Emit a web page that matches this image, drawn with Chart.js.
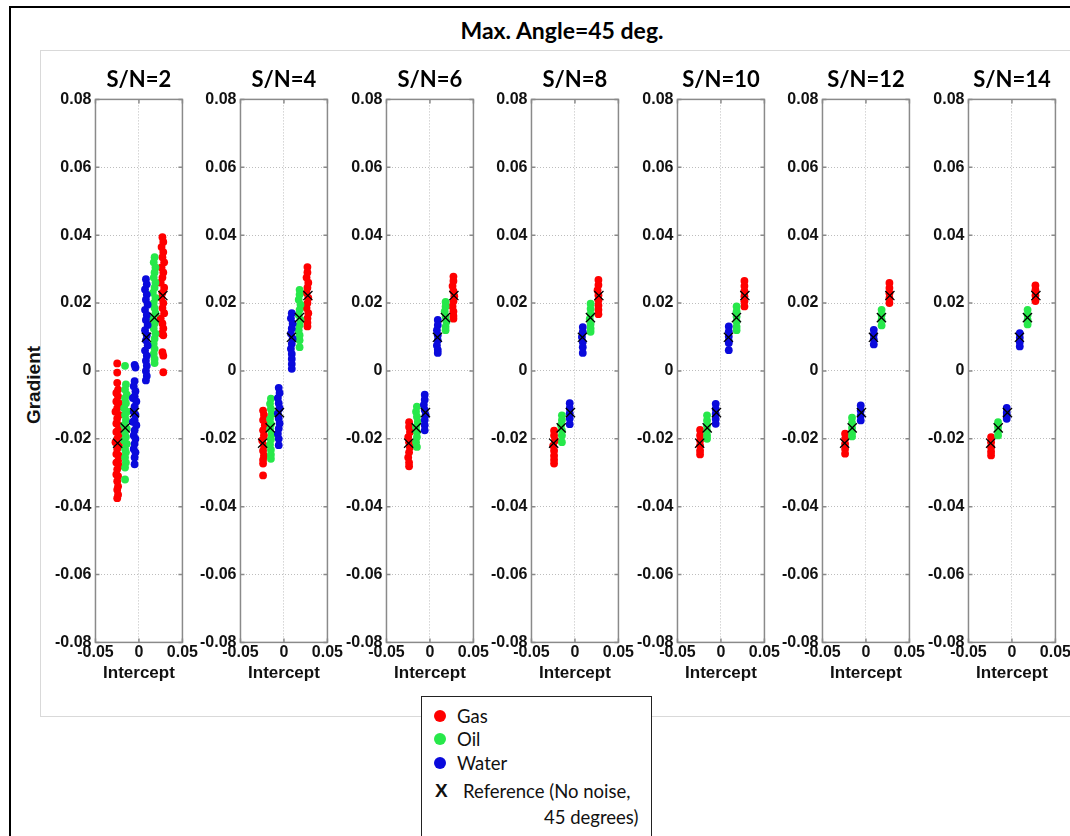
<!DOCTYPE html>
<html>
<head>
<meta charset="utf-8">
<script src="https://cdn.jsdelivr.net/npm/chart.js@4.4.0/dist/chart.umd.min.js"></script>
<style>
    body { margin: 0; background: #fff; width: 1070px; height: 836px; overflow: hidden; position: relative; font-family: 'Liberation Sans', Arial, sans-serif; }
    #frame { position: absolute; left: 9px; top: 6px; width: 1100px; height: 900px; border: 2px solid #000; }
    #inner { position: absolute; left: 40px; top: 50px; width: 1100px; height: 665px; border: 1px solid #d9d9d9; }
    #mainTitle { position: absolute; left: 262px; top: 16px; width: 600px; text-align: center; font: bold 23px Lato, sans-serif; color: #000; }
    #yTitle { position: absolute; left: 34px; top: 385px; transform: translate(-50%, -50%) rotate(-90deg); font: bold 19px 'Liberation Sans', Arial, sans-serif; color: #111; white-space: nowrap; }
    .panel { position: absolute; }
    #legend { position: absolute; left: 421px; top: 696px; width: 229px; height: 200px; border: 1px solid #222; background: #fff; font: 18.5px Lato, sans-serif; color: #111; }
    .item { position: absolute; left: 0; height: 22px; line-height: 22px; white-space: nowrap; }
    .dot { position: absolute; left: 12px; top: 5px; width: 12px; height: 12px; border-radius: 50%; }
    .lbl { position: absolute; left: 35px; top: 0; }
    .xmark { position: absolute; left: 13px; top: 0; font: bold 19px 'Liberation Sans', Arial, sans-serif; }
</style>
</head>
<body>
<div id="frame"></div>
<div id="inner"></div>
<div id="mainTitle">Max. Angle=45 deg.</div>
<div id="yTitle">Gradient</div>
<div id="legend">
    <div class="item" style="top:8px"><span class="dot" style="background:#ff0000"></span><span class="lbl">Gas</span></div>
    <div class="item" style="top:31px"><span class="dot" style="background:#27e84a"></span><span class="lbl">Oil</span></div>
    <div class="item" style="top:55px"><span class="dot" style="background:#0a0adc"></span><span class="lbl">Water</span></div>
    <div class="item" style="top:83px"><span class="xmark">X</span><span class="lbl" style="left:41px">Reference (No noise,</span></div>
    <div class="item" style="top:109px"><span class="lbl" style="left:122px">45 degrees)</span></div>
</div>
<script>
    const snLevels = [2, 4, 6, 8, 10, 12, 14];
    const xTicks = [-0.05, 0, 0.05];
    const yTicks = [-0.08, -0.06, -0.04, -0.02, 0, 0.02, 0.04, 0.06, 0.08];

    // noise-free reference (intercept, gradient)
    const refPoints = [[-0.0245, -0.0213], [-0.0158, -0.0168], [-0.0052, -0.0123], [0.0086, 0.0099], [0.0178, 0.0157], [0.0275, 0.0222]];

    // S/N = 2
    const gas2 = [[-0.025,0.0022],[-0.025,-0.0005],[-0.025,-0.0035],[-0.024,-0.0055],[-0.026,-0.0065],[-0.024,-0.0075],[-0.026,-0.009],[-0.023,-0.0095],[-0.025,-0.011],[-0.027,-0.012],[-0.023,-0.013],[-0.025,-0.014],[-0.026,-0.0155],[-0.023,-0.016],[-0.024,-0.0175],[-0.026,-0.018],[-0.023,-0.019],[-0.025,-0.020],[-0.027,-0.021],[-0.023,-0.022],[-0.025,-0.023],[-0.026,-0.0245],[-0.023,-0.025],[-0.024,-0.0265],[-0.026,-0.027],[-0.023,-0.028],[-0.025,-0.029],[-0.026,-0.0305],[-0.024,-0.031],[-0.025,-0.0325],[-0.024,-0.034],[-0.025,-0.035],[-0.024,-0.0365],[-0.025,-0.0375],
        [0.027,0.0394],[0.028,0.038],[0.026,0.0365],[0.028,0.035],[0.027,0.0335],[0.029,0.032],[0.026,0.0305],[0.028,0.029],[0.027,0.0275],[0.025,0.026],[0.029,0.0245],[0.027,0.023],[0.026,0.0215],[0.028,0.020],[0.027,0.0185],[0.029,0.017],[0.025,0.0155],[0.027,0.014],[0.028,0.0125],[0.026,0.011],[0.028,0.0105],[0.027,0.0055],[0.028,0.0045],[0.028,-0.0004]];
    const oil2 = [[-0.016,0.0015],[-0.015,-0.004],[-0.016,-0.0055],[-0.014,-0.007],[-0.016,-0.008],[-0.015,-0.0095],[-0.017,-0.011],[-0.014,-0.012],[-0.016,-0.013],[-0.015,-0.0145],[-0.017,-0.016],[-0.014,-0.017],[-0.016,-0.018],[-0.015,-0.0195],[-0.017,-0.0205],[-0.014,-0.0215],[-0.016,-0.023],[-0.015,-0.024],[-0.016,-0.0255],[-0.015,-0.027],[-0.016,-0.0285],[-0.016,-0.032],
        [0.018,0.0335],[0.017,0.032],[0.019,0.0305],[0.018,0.029],[0.017,0.0275],[0.019,0.026],[0.018,0.0245],[0.016,0.023],[0.019,0.0215],[0.017,0.020],[0.018,0.0185],[0.019,0.017],[0.016,0.0155],[0.018,0.014],[0.017,0.0125],[0.019,0.011],[0.018,0.0095],[0.017,0.008],[0.018,0.0065],[0.017,0.005],[0.018,0.0035],[0.018,0.0023]];
    const water2 = [[-0.005,0.0018],[-0.004,0.001],[-0.005,-0.003],[-0.006,-0.0045],[-0.004,-0.006],[-0.005,-0.0075],[-0.007,-0.008],[-0.003,-0.009],[-0.005,-0.0105],[-0.006,-0.012],[-0.004,-0.013],[-0.005,-0.0145],[-0.007,-0.015],[-0.003,-0.016],[-0.005,-0.0175],[-0.006,-0.019],[-0.004,-0.020],[-0.005,-0.0215],[-0.006,-0.023],[-0.004,-0.024],[-0.005,-0.0255],[-0.005,-0.0275],
        [0.008,0.027],[0.009,0.0255],[0.007,0.024],[0.009,0.0225],[0.008,0.021],[0.010,0.0195],[0.007,0.018],[0.009,0.0165],[0.008,0.015],[0.010,0.0135],[0.007,0.012],[0.009,0.0105],[0.008,0.009],[0.010,0.0075],[0.007,0.006],[0.009,0.0045],[0.008,0.003],[0.009,0.0015],[0.008,0.0],[0.009,-0.0015],[0.008,-0.0028]];

    // S/N = 4
    const gas4 = [[-0.024,-0.0117],[-0.023,-0.013],[-0.024,-0.0145],[-0.022,-0.016],[-0.024,-0.0175],[-0.023,-0.019],[-0.025,-0.0205],[-0.023,-0.022],[-0.024,-0.0235],[-0.023,-0.025],[-0.024,-0.0262],[-0.024,-0.0273],[-0.024,-0.0308],
        [0.027,0.0306],[0.027,0.029],[0.026,0.0275],[0.028,0.026],[0.027,0.0245],[0.026,0.023],[0.028,0.0215],[0.027,0.020],[0.026,0.0185],[0.028,0.017],[0.027,0.0155],[0.027,0.0142],[0.027,0.0131]];
    const oil4 = [[-0.015,-0.0082],[-0.016,-0.0097],[-0.015,-0.0112],[-0.014,-0.0127],[-0.016,-0.0142],[-0.015,-0.0157],[-0.016,-0.0172],[-0.014,-0.0187],[-0.015,-0.0202],[-0.016,-0.0217],[-0.015,-0.0232],[-0.015,-0.0247],[-0.015,-0.0259],
        [0.018,0.0239],[0.018,0.0225],[0.017,0.021],[0.019,0.0195],[0.018,0.018],[0.017,0.0165],[0.019,0.015],[0.018,0.0135],[0.017,0.012],[0.018,0.0105],[0.018,0.009],[0.018,0.007]];
    const water4 = [[-0.006,-0.005],[-0.005,-0.0065],[-0.007,-0.008],[-0.006,-0.0095],[-0.005,-0.011],[-0.007,-0.0125],[-0.006,-0.014],[-0.005,-0.0155],[-0.006,-0.017],[-0.007,-0.0185],[-0.006,-0.020],[-0.006,-0.0219],
        [0.009,0.017],[0.008,0.0155],[0.010,0.014],[0.009,0.0125],[0.008,0.011],[0.010,0.0095],[0.009,0.008],[0.008,0.0065],[0.009,0.005],[0.009,0.0035],[0.009,0.002],[0.009,0.0006]];

    // S/N = 6
    const gas6 = [[-0.024,-0.0151],[-0.024,-0.0165],[-0.023,-0.018],[-0.025,-0.0195],[-0.024,-0.021],[-0.023,-0.0225],[-0.024,-0.024],[-0.025,-0.0255],[-0.024,-0.027],[-0.024,-0.0281],
        [0.027,0.0278],[0.027,0.0265],[0.026,0.025],[0.027,0.0235],[0.028,0.022],[0.027,0.0205],[0.026,0.019],[0.027,0.0175],[0.027,0.0162],[0.027,0.0154]];
    const oil6 = [[-0.015,-0.0105],[-0.016,-0.012],[-0.015,-0.0135],[-0.014,-0.015],[-0.016,-0.0165],[-0.015,-0.018],[-0.015,-0.0195],[-0.016,-0.021],[-0.015,-0.0224],
        [0.018,0.0203],[0.018,0.019],[0.017,0.0175],[0.018,0.016],[0.019,0.0145],[0.018,0.013],[0.018,0.012]];
    const water6 = [[-0.006,-0.007],[-0.006,-0.0085],[-0.007,-0.010],[-0.006,-0.0115],[-0.005,-0.013],[-0.006,-0.0145],[-0.006,-0.016],[-0.006,-0.0175],
        [0.009,0.015],[0.009,0.0135],[0.008,0.012],[0.009,0.0105],[0.009,0.009],[0.008,0.0075],[0.009,0.0062],[0.009,0.0053]];

    // S/N = 8
    const gas8 = [[-0.024,-0.0176],[-0.024,-0.019],[-0.023,-0.0205],[-0.025,-0.022],[-0.024,-0.0235],[-0.024,-0.025],[-0.024,-0.0262],[-0.024,-0.0273],
        [0.027,0.0268],[0.027,0.0253],[0.026,0.0238],[0.027,0.0223],[0.027,0.0208],[0.027,0.0193],[0.027,0.018],[0.027,0.0167]];
    const oil8 = [[-0.015,-0.0131],[-0.015,-0.0145],[-0.016,-0.016],[-0.015,-0.0175],[-0.015,-0.019],[-0.015,-0.021],
        [0.018,0.0198],[0.018,0.0183],[0.018,0.0168],[0.017,0.0153],[0.018,0.0138],[0.018,0.0125],[0.018,0.0115]];
    const water8 = [[-0.006,-0.0095],[-0.006,-0.011],[-0.006,-0.0125],[-0.006,-0.014],[-0.006,-0.0157],
        [0.009,0.0129],[0.009,0.0115],[0.008,0.010],[0.009,0.0085],[0.009,0.007],[0.009,0.0053]];

    // S/N = 10
    const gas10 = [[-0.024,-0.0174],[-0.024,-0.019],[-0.024,-0.0205],[-0.024,-0.022],[-0.024,-0.0235],[-0.024,-0.0246],
        [0.027,0.0265],[0.027,0.025],[0.027,0.0235],[0.027,0.022],[0.027,0.0205],[0.027,0.019]];
    const oil10 = [[-0.016,-0.0131],[-0.016,-0.0146],[-0.016,-0.0161],[-0.016,-0.0176],[-0.016,-0.019],[-0.016,-0.020],
        [0.018,0.019],[0.018,0.0175],[0.018,0.016],[0.018,0.0145],[0.018,0.013],[0.018,0.012]];
    const water10 = [[-0.006,-0.0097],[-0.006,-0.0112],[-0.006,-0.0127],[-0.006,-0.0142],[-0.006,-0.0156],
        [0.009,0.0131],[0.009,0.0116],[0.009,0.0101],[0.009,0.0088],[0.009,0.0082],[0.009,0.0061]];

    // S/N = 12
    const gas12 = [[-0.024,-0.0185],[-0.024,-0.020],[-0.024,-0.0215],[-0.024,-0.023],[-0.024,-0.0244],
        [0.027,0.0259],[0.027,0.0244],[0.027,0.0229],[0.027,0.0214],[0.027,0.020]];
    const oil12 = [[-0.016,-0.0138],[-0.016,-0.0153],[-0.016,-0.0168],[-0.016,-0.0182],[-0.016,-0.0193],
        [0.018,0.018],[0.018,0.0165],[0.018,0.015],[0.018,0.0134]];
    const water12 = [[-0.006,-0.0102],[-0.006,-0.0117],[-0.006,-0.0132],[-0.006,-0.0146],
        [0.009,0.0121],[0.009,0.0107],[0.009,0.0093],[0.009,0.0078]];

    // S/N = 14
    const gas14 = [[-0.024,-0.0195],[-0.024,-0.021],[-0.024,-0.0225],[-0.024,-0.0238],[-0.024,-0.0249],
        [0.027,0.0252],[0.027,0.0238],[0.027,0.0222],[0.027,0.0206]];
    const oil14 = [[-0.016,-0.0151],[-0.016,-0.0165],[-0.016,-0.0178],[-0.016,-0.019],
        [0.018,0.018],[0.018,0.0165],[0.018,0.015],[0.018,0.0137]];
    const water14 = [[-0.006,-0.0109],[-0.006,-0.0123],[-0.006,-0.0132],[-0.006,-0.0141],
        [0.009,0.0111],[0.009,0.0098],[0.009,0.0085],[0.009,0.0072]];

    const gasByPanel = [gas2, gas4, gas6, gas8, gas10, gas12, gas14];
    const oilByPanel = [oil2, oil4, oil6, oil8, oil10, oil12, oil14];
    const waterByPanel = [water2, water4, water6, water8, water10, water12, water14];

    const plotLeft0 = 95, plotStep = 145.5, plotTop = 99, plotW = 87, plotH = 543;
    const tickFont = { family: "'Liberation Sans', Arial, sans-serif", size: 16, weight: 'bold' };

    Chart.defaults.font.family = "'Liberation Sans', Arial, sans-serif";
    Chart.defaults.color = '#111';

    const toXY = (arr) => arr.map(p => ({ x: p[0], y: p[1] }));
    const fmt = (v) => String(Number(v.toFixed(2)));

    /*solid axes box with inward ticks, like the original figure*/
    const boxPlugin = {
        id: 'axisBox',
        beforeDatasetsDraw(chart) {
            const { ctx, chartArea: a, scales } = chart;
            ctx.save();
            ctx.strokeStyle = '#8a8a8a';
            ctx.lineWidth = 1.5;
            ctx.strokeRect(a.left, a.top, a.right - a.left, a.bottom - a.top);
            ctx.beginPath();
            yTicks.forEach(v => {
                const y = scales.y.getPixelForValue(v);
                ctx.moveTo(a.left, y); ctx.lineTo(a.left + 4, y);
                ctx.moveTo(a.right, y); ctx.lineTo(a.right - 4, y);
            });
            xTicks.forEach(v => {
                const x = scales.x.getPixelForValue(v);
                ctx.moveTo(x, a.bottom); ctx.lineTo(x, a.bottom - 4);
                ctx.moveTo(x, a.top); ctx.lineTo(x, a.top + 4);
            });
            ctx.stroke();
            ctx.restore();
        }
    };

    function pointSet(label, data, color) {
        return {
            label: label,
            data: toXY(data),
            backgroundColor: color,
            borderWidth: 0,
            pointRadius: 3.9,
            pointHoverRadius: 3.9
        };
    }

    function fitPanel(chart, wrap, left, top) {
        for (let k = 0; k < 3; k++) {
            const a = chart.chartArea;
            const dw = plotW - (a.right - a.left);
            const dh = plotH - (a.bottom - a.top);
            if (Math.abs(dw) < 0.5 && Math.abs(dh) < 0.5) break;
            wrap.style.width = Math.round(wrap.clientWidth + dw) + 'px';
            wrap.style.height = Math.round(wrap.clientHeight + dh) + 'px';
            chart.resize();
        }
        wrap.style.left = (left - chart.chartArea.left) + 'px';
        wrap.style.top = (top - chart.chartArea.top) + 'px';
    }

    snLevels.forEach(function (sn, i) {
        const wrap = document.createElement('div');
        wrap.className = 'panel';
        wrap.style.width = '160px';
        wrap.style.height = '640px';
        const cv = document.createElement('canvas');
        wrap.appendChild(cv);
        document.body.appendChild(wrap);

        const chart = new Chart(cv, {
            type: 'scatter',
            data: {
                datasets: [
                    {
                        label: 'Reference (No noise, 45 degrees)',
                        data: toXY(refPoints),
                        pointStyle: 'crossRot',
                        pointRadius: 6.5,
                        pointHoverRadius: 6.5,
                        borderColor: '#000',
                        borderWidth: 1.3,
                        backgroundColor: '#000'
                    },
                    pointSet('Water', waterByPanel[i], '#0a0adc'),
                    pointSet('Oil', oilByPanel[i], '#27e84a'),
                    pointSet('Gas', gasByPanel[i], '#ff0000')
                ]
            },
            options: {
                responsive: true,
                maintainAspectRatio: false,
                animation: false,
                events: [],
                layout: { padding: 0 },
                plugins: {
                    legend: { display: false },
                    tooltip: { enabled: false },
                    title: {
                        display: true,
                        fullSize: false,
                        text: 'S/N=' + sn,
                        color: '#000',
                        font: { family: 'Lato, sans-serif', size: 22, weight: 'bold', lineHeight: 1.2 },
                        padding: { top: 2, bottom: 6 }
                    }
                },
                scales: {
                    x: {
                        type: 'linear',
                        min: -0.05,
                        max: 0.05,
                        afterBuildTicks: (scale) => { scale.ticks = xTicks.map(v => ({ value: v })); },
                        ticks: { font: tickFont, padding: 1, maxRotation: 0, callback: fmt, color: '#111' },
                        grid: { color: '#bdbdbd', drawTicks: false },
                        border: { display: false, dash: [1, 2] },
                        title: {
                            display: true,
                            text: 'Intercept',
                            color: '#111',
                            font: { family: "'Liberation Sans', Arial, sans-serif", size: 17, weight: 'bold', lineHeight: 1.2 },
                            padding: { top: 0, bottom: 2 }
                        }
                    },
                    y: {
                        type: 'linear',
                        min: -0.08,
                        max: 0.08,
                        afterBuildTicks: (scale) => { scale.ticks = yTicks.map(v => ({ value: v })); },
                        ticks: { font: tickFont, padding: 4, callback: fmt, color: '#111' },
                        grid: { color: '#bdbdbd', drawTicks: false },
                        border: { display: false, dash: [1, 2] }
                    }
                }
            },
            plugins: [boxPlugin]
        });

        fitPanel(chart, wrap, plotLeft0 + plotStep * i, plotTop);
    });
</script>
</body>
</html>
